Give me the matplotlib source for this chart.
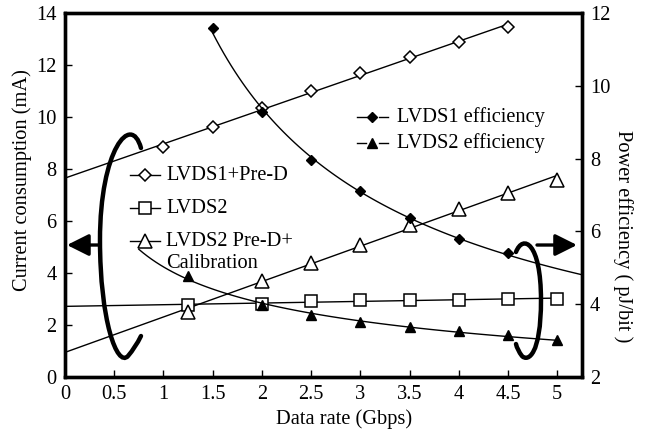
import numpy as np
import matplotlib
matplotlib.use("Agg")
import matplotlib.pyplot as plt
from matplotlib.path import Path
from matplotlib.patches import PathPatch

plt.rcParams["font.family"] = ["Liberation Serif", "DejaVu Serif"]
plt.rcParams["font.size"] = 14.7

# data rates (Gbps)
rate_pred = [1, 1.5, 2, 2.5, 3, 3.5, 4, 4.5]
rate_all = [1.25, 2, 2.5, 3, 3.5, 4, 4.5, 5]
rate_eff1 = [1.5, 2, 2.5, 3, 3.5, 4, 4.5]

# current consumption (mA), left axis
lvds1_pred = [8.85, 9.6, 10.35, 11.0, 11.7, 12.3, 12.9, 13.45]
lvds2 = [2.77, 2.8, 2.92, 2.96, 2.96, 2.97, 3.0, 3.0]
lvds2_cal = [2.5, 3.7, 4.4, 5.07, 5.85, 6.46, 7.08, 7.58]

# power efficiency (pJ/bit), right axis
lvds1_eff = [11.59, 9.29, 7.97, 7.1, 6.38, 5.78, 5.4]
lvds2_eff = [4.77, 3.97, 3.7, 3.5, 3.37, 3.26, 3.15, 3.01]

fig = plt.figure(figsize=(6.46, 4.34), dpi=100)
ax = fig.add_axes([0.1006, 0.1313, 0.8, 0.8387])
ax2 = ax.twinx()

ax.set_xlim(0, 5.25)
ax.set_ylim(0, 14)
ax2.set_ylim(2, 12)
ax.set_xticks(np.arange(0, 5.01, 0.5))
ax.set_xticklabels(["0", "0.5", "1", "1.5", "2", "2.5", "3", "3.5", "4", "4.5", "5"])
ax.set_yticks(range(0, 15, 2))
ax2.set_yticks(range(2, 13, 2))

for a in (ax, ax2):
    for s in a.spines.values():
        s.set_linewidth(2.4)
    a.tick_params(direction="in", length=5, width=1, pad=6)

lw = 1.0


def linfit(x, y, x0, x1):
    k, b = np.polyfit(x, y, 1)
    xs = np.array([x0, x1])
    return xs, k * xs + b


def powfit(x, y, x0, x1):
    k, b = np.polyfit(np.log(x), np.log(y), 1)
    xs = np.linspace(x0, x1, 100)
    return xs, np.exp(b) * xs ** k


# trend lines
xs, ys = linfit(rate_pred, lvds1_pred, 0, 4.5)
ax.plot(xs, ys, color="black", lw=lw)
xs, ys = linfit(rate_all, lvds2, 0, 5)
ax.plot(xs, ys, color="black", lw=lw)
xs, ys = linfit(rate_all, lvds2_cal, 0, 5)
ax.plot(xs, ys, color="black", lw=lw)
xs, ys = powfit(rate_eff1, lvds1_eff, 1.5, 5.25)
ax2.plot(xs, ys, color="black", lw=lw)
xs, ys = powfit(rate_all, lvds2_eff, 0.75, 5)
ax2.plot(xs, ys, color="black", lw=lw)

# markers
ax.plot(rate_pred, lvds1_pred, "D", ms=6.5, mfc="white", mec="black", mew=1.1, zorder=5)
ax.plot(rate_all, lvds2, "s", ms=8, mfc="white", mec="black", mew=1.1, zorder=5)
ax.plot(rate_all, lvds2_cal, "^", ms=9.5, mfc="white", mec="black", mew=1.1, zorder=5)
ax2.plot(rate_eff1, lvds1_eff, "D", ms=5, color="black", zorder=5)
ax2.plot(rate_all, lvds2_eff, "^", ms=7, color="black", zorder=5)

# legend (left)
T = ax.transAxes
fw, fh = 646 * 0.8, 434 * 0.8387


def ax_xy(px, py):
    return (px - 65) / fw, (377 - py) / fh


left_items = [("D", 6.5, "LVDS1+Pre-D", 175), ("s", 8, "LVDS2", 208), ("^", 9.5, "LVDS2 Pre-D+", 241)]
for m, ms, lab, py in left_items:
    x0, y = ax_xy(130, py)
    x1, _ = ax_xy(160, py)
    xm, _ = ax_xy(145, py)
    ax.plot([x0, x1], [y, y], color="black", lw=lw, transform=T, zorder=6)
    ax.plot([xm], [y], m, ms=ms, mfc="white", mec="black", mew=1.1, transform=T, zorder=7)
    tx, _ = ax_xy(166, py)
    ax.text(tx, y, lab, transform=T, va="center", ha="left")
tx, y = ax_xy(166, 263)
ax.text(tx, y, "Calibration", transform=T, va="center", ha="left")

# legend (right)
right_items = [("D", 5, "LVDS1 efficiency", 117), ("^", 7, "LVDS2 efficiency", 143)]
for m, ms, lab, py in right_items:
    _, y = ax_xy(0, py)
    for a0, a1 in ((357, 366), (379, 388)):
        xa, _ = ax_xy(a0, py)
        xb, _ = ax_xy(a1, py)
        ax.plot([xa, xb], [y, y], color="black", lw=lw, transform=T)
    xm, _ = ax_xy(372.5, py)
    ax.plot([xm], [y], m, ms=ms, color="black", transform=T)
    tx, _ = ax_xy(397, py)
    ax.text(tx, y, lab, transform=T, va="center", ha="left")

# curved brackets and arrows (pixel positions converted to axes fraction)
def bracket(pts):
    verts = [ax_xy(*p) for p in pts]
    codes = [Path.MOVETO] + [Path.CURVE4] * (len(verts) - 1)
    ax.add_patch(PathPatch(Path(verts, codes), fill=False, lw=3.2, color="black",
                           transform=T, capstyle="round", zorder=8))


bracket([(141, 148), (131, 112), (100, 150), (100, 240),
         (100, 320), (117, 368), (128, 356),
         (133, 350), (137, 344), (141, 336)])
bracket([(516, 252), (523, 234), (541, 242), (541, 300),
         (541, 355), (528, 362), (522, 356),
         (519, 352), (517, 348), (516, 344)])

for p0, p1 in (((98, 245), (67, 245)), ((537, 245), (577, 245))):
    ax.annotate("", xy=ax_xy(*p1), xytext=ax_xy(*p0), xycoords=T, textcoords=T,
                arrowprops=dict(arrowstyle="-|>,head_length=0.9,head_width=0.45",
                                lw=2.4, color="black", shrinkA=0, shrinkB=0))

ax.set_xlabel("Data rate (Gbps)", va="center")
ax.xaxis.set_label_coords((344 - 65) / fw, (377 - 419) / fh)
ax.set_ylabel("Current consumption (mA)", va="center")
ax.yaxis.set_label_coords((22 - 65) / fw, (377 - 180) / fh)
ax2.set_ylabel("Power efficiency ( pJ/bit )", rotation=270, va="center")
ax2.yaxis.set_label_coords((623 - 65) / fw, (377 - 236) / fh)

fig.savefig("out.png", dpi=100)
